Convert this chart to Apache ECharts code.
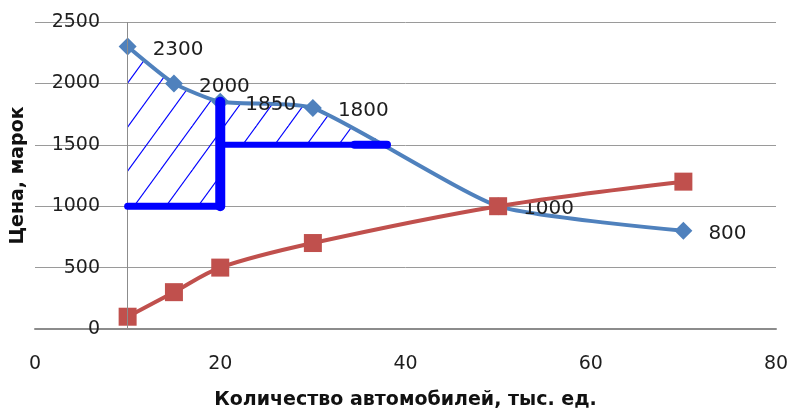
<!DOCTYPE html>
<html>
<head>
<meta charset="utf-8">
<script src="https://cdn.jsdelivr.net/npm/echarts@6/dist/echarts.min.js"></script>
<style>
html,body{margin:0;padding:0;background:#fff;}
#chart{width:792px;height:412px;}
</style>
</head>
<body>
<div id="chart"></div>
<script>
// ---- data ----
const qty = [10, 15, 20, 30, 50, 70];
const demand = [2300, 2000, 1850, 1800, 1000, 800];
const supply = [100, 300, 500, 700, 1000, 1200];
const xTicks = [0, 20, 40, 60, 80];
const yTicks = [0, 500, 1000, 1500, 2000, 2500];
// quota (step) lines
const quotaLowX = [10, 20];
const quotaLowY = [1000, 1000];
const quotaVertX = [20, 20];
const quotaVertY = [1000, 1850];
const quotaHighX = [20, 38];
const quotaHighY = [1500, 1500];
const quotaHighEndX = [34.5, 38];
// hatched areas (top edge follows demand points, bottom at quota price)
const hatchLeftX = [10, 15, 20];
const hatchLeftY = [2300, 2000, 1850];
const hatchLeftBase = 1000;
const hatchRightX = [20, 30, 38];
const hatchRightY = [1850, 1800, 1500];
const hatchRightBase = 1500;
const axisXName = 'Количество автомобилей, тыс. ед.';
const axisYName = 'Цена, марок';

const zip = (xs, ys) => xs.map((x, i) => [x, ys[i]]);

// hatch pattern
function makeHatch() {
  const w = 32, h = 44, c = 28;
  const cv = document.createElement('canvas');
  cv.width = w; cv.height = h;
  const ctx = cv.getContext('2d');
  ctx.strokeStyle = '#0000ff';
  ctx.lineWidth = 1.1;
  const k = w / h;
  for (let s = -1; s <= 1; s++) {
    const x0 = c + s * w;
    ctx.beginPath();
    ctx.moveTo(x0 + 4 * k, -4);
    ctx.lineTo(x0 - (h + 4) * k, h + 4);
    ctx.stroke();
  }
  return { image: cv, repeat: 'repeat' };
}
const hatch = makeHatch();

const FONT = 'DejaVu Sans';
const TXT = '#1e1e1e';
const SMOOTH_D = 0.18;
const SMOOTH_S = 0.33;
const chart = echarts.init(document.getElementById('chart'), null, { renderer: 'canvas' });

const option = {
  animation: false,
  backgroundColor: '#ffffff',
  grid: { left: 35, right: 16, top: 22, bottom: 83, containLabel: false, outerBoundsMode: 'none' },
  xAxis: {
    type: 'value', min: xTicks[0], max: xTicks[xTicks.length - 1], interval: 20,
    axisLine: { show: true, onZero: false, lineStyle: { color: '#8c8c8c', width: 2 } },
    axisTick: { show: false },
    splitLine: { show: false },
    axisLabel: { color: TXT, fontFamily: FONT, fontSize: 19, margin: 26, formatter: v => String(v) },
    name: axisXName, nameLocation: 'middle', nameGap: 62,
    nameTextStyle: { color: '#111', fontFamily: FONT, fontSize: 19, fontWeight: 'bold' }
  },
  yAxis: {
    type: 'value', min: yTicks[0], max: yTicks[yTicks.length - 1], interval: 500,
    axisLine: { show: false },
    axisTick: { show: false },
    splitLine: { show: true, lineStyle: { color: '#9a9a9a', width: 1 } },
    axisLabel: { color: TXT, fontFamily: FONT, fontSize: 19, margin: -65, formatter: v => String(v) },
    name: axisYName, nameLocation: 'middle', nameGap: 0,
    nameTextStyle: { color: '#111', fontFamily: FONT, fontSize: 19, fontWeight: 'bold' }
  },
  series: [
    {
      type: 'line', name: 'hatchL', data: zip(hatchLeftX, hatchLeftY), smooth: SMOOTH_D,
      symbol: 'none', lineStyle: { width: 0, opacity: 0 }, silent: true, z: 1,
      areaStyle: { origin: hatchLeftBase, color: hatch, opacity: 1 },
      markLine: {
        silent: true, symbol: 'none', label: { show: false },
        lineStyle: { color: '#8c8c8c', width: 1, type: 'solid' },
        data: [{ xAxis: qty[0] }]
      }
    },
    {
      type: 'line', name: 'hatchR', data: zip(hatchRightX, hatchRightY), smooth: SMOOTH_D,
      symbol: 'none', lineStyle: { width: 0, opacity: 0 }, silent: true, z: 1,
      areaStyle: { origin: hatchRightBase, color: hatch, opacity: 1 }
    },
    {
      type: 'line', name: 'Спрос', data: zip(qty, demand), smooth: SMOOTH_D, z: 3,
      symbol: 'diamond', symbolSize: 18,
      itemStyle: { color: '#4f81bd' },
      lineStyle: { color: '#4f81bd', width: 4 },
      label: { show: true, position: 'right', distance: 16, offset: [0, 3],
        color: TXT, fontFamily: FONT, fontSize: 20, formatter: p => String(p.value[1]) }
    },
    {
      type: 'line', name: 'Предложение', data: zip(qty, supply), smooth: SMOOTH_S, z: 4,
      symbol: 'rect', symbolSize: 18,
      itemStyle: { color: '#c0504d' },
      lineStyle: { color: '#c0504d', width: 4 }
    },
    {
      type: 'line', data: zip(quotaLowX, quotaLowY), symbol: 'none', z: 5,
      lineStyle: { color: '#0000ff', width: 7, cap: 'round' }
    },
    {
      type: 'line', data: zip(quotaVertX, quotaVertY), symbol: 'none', z: 5,
      lineStyle: { color: '#0000ff', width: 10, cap: 'round' }
    },
    {
      type: 'line', data: zip(quotaHighX, quotaHighY), symbol: 'none', z: 5,
      lineStyle: { color: '#0000ff', width: 6, cap: 'round' }
    },
    {
      type: 'line', data: zip(quotaHighEndX, quotaHighY), symbol: 'none', z: 5,
      lineStyle: { color: '#0000ff', width: 8, cap: 'round' }
    }
  ]
};
chart.setOption(option);
</script>
</body>
</html>
